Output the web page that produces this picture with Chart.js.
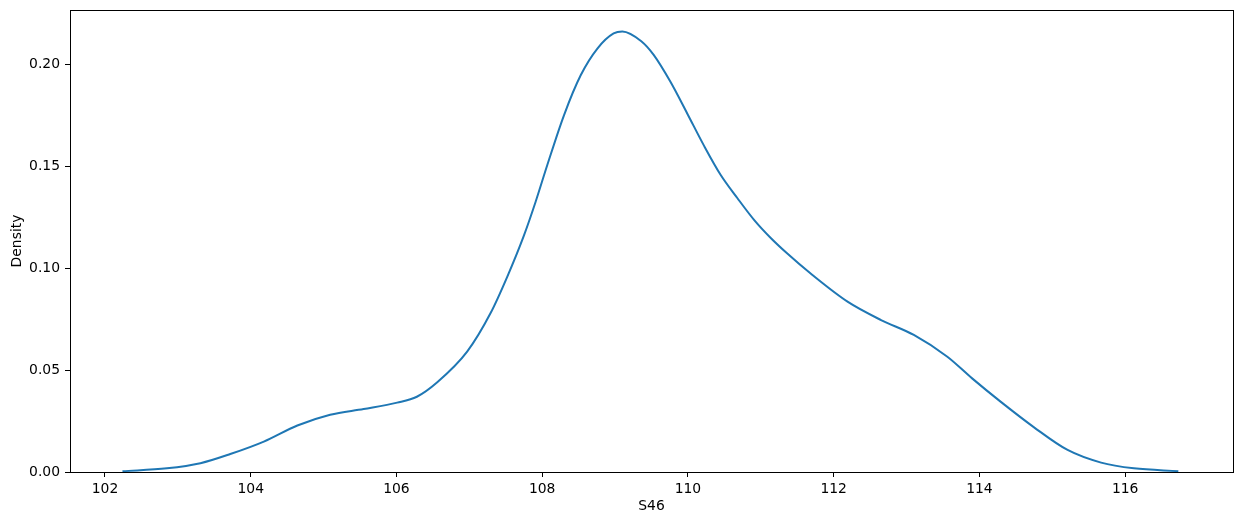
<!DOCTYPE html>
<html>
<head>
<meta charset="utf-8">
<script src="https://cdn.jsdelivr.net/npm/chart.js@4/dist/chart.umd.min.js"></script>
<style>
  html, body { margin: 0; padding: 0; background: #fff; }
  #wrap { width: 1242px; height: 525px; position: relative; }
</style>
</head>
<body>
<div id="wrap"><canvas id="c" width="1242" height="525"></canvas></div>
<script>
// Data
const xValues = [102.24, 102.85, 103.31, 103.72, 104.18, 104.64, 105.09, 105.55, 106.01, 106.28,
                 106.56, 106.97, 107.29, 107.52, 107.75, 107.91, 108.07, 108.30, 108.53, 108.76,
                 108.98, 109.10, 109.36, 109.53, 109.76, 109.99, 110.22, 110.45, 110.68, 110.91,
                 111.14, 111.36, 111.68, 112.19, 112.65, 113.10, 113.56, 113.90, 114.29, 114.75,
                 115.21, 115.67, 116.12, 116.73];
const densityValues = [0.0004, 0.0018, 0.0043, 0.0088, 0.0149, 0.0228, 0.0281, 0.0309, 0.0340, 0.0369,
                       0.0440, 0.0590, 0.0778, 0.0957, 0.1160, 0.1325, 0.1505, 0.1750, 0.1946, 0.2077,
                       0.2150, 0.2160, 0.2112, 0.2045, 0.1913, 0.1758, 0.1600, 0.1456, 0.1342, 0.1235,
                       0.1146, 0.1072, 0.0974, 0.0835, 0.0745, 0.0672, 0.0565, 0.0459, 0.0345, 0.0219,
                       0.0108, 0.0046, 0.0018, 0.0004];
const xTicks = [102, 104, 106, 108, 110, 112, 114, 116];
const yTicks = [0.00, 0.05, 0.10, 0.15, 0.20];
const xLabel = 'S46';
const yLabel = 'Density';

const points = xValues.map((x, i) => ({ x: x, y: densityValues[i] }));

Chart.defaults.color = '#000';
Chart.defaults.font.family = '"DejaVu Sans", sans-serif';
Chart.defaults.font.size = 13.9;

const frame = {
  id: 'frame',
  afterDraw(chart) {
    const { ctx, chartArea: a } = chart;
    ctx.save();
    ctx.strokeStyle = '#000';
    ctx.lineWidth = 1;
    ctx.strokeRect(Math.round(a.left) + 0.5, Math.round(a.top) + 0.5,
                   Math.round(a.right - a.left), Math.round(a.bottom - a.top));
    ctx.restore();
  }
};

new Chart(document.getElementById('c'), {
  type: 'line',
  data: {
    datasets: [{
      data: points,
      borderColor: '#1f77b4',
      borderWidth: 2,
      pointRadius: 0,
      fill: false,
      cubicInterpolationMode: 'monotone'
    }]
  },
  options: {
    responsive: false,
    animation: false,
    events: [],
    layout: { padding: { left: 0, top: 10, right: 9, bottom: 0 } },
    plugins: { legend: { display: false }, tooltip: { enabled: false } },
    scales: {
      x: {
        type: 'linear',
        min: 101.52,
        max: 117.48,
        afterFit(scale) { scale.height = 53; scale.paddingLeft = 0; scale.paddingRight = 0; },
        afterBuildTicks(scale) { scale.ticks = xTicks.map(v => ({ value: v })); },
        grid: { drawOnChartArea: false, drawTicks: true, tickLength: 5, color: '#000' },
        border: { display: false },
        ticks: { padding: 4, maxRotation: 0, autoSkip: false, callback: v => String(v) },
        title: { display: true, text: xLabel, padding: { top: 0, bottom: 10 } }
      },
      y: {
        type: 'linear',
        min: 0,
        max: 0.2265,
        afterFit(scale) { scale.width = 70; scale.paddingTop = 0; scale.paddingBottom = 0; },
        afterBuildTicks(scale) { scale.ticks = yTicks.map(v => ({ value: v })); },
        grid: { drawOnChartArea: false, drawTicks: true, tickLength: 5, color: '#000' },
        border: { display: false },
        ticks: { padding: 5, autoSkip: false, callback: v => Number(v).toFixed(2) },
        title: { display: true, text: yLabel, padding: { top: 9, bottom: 0 } }
      }
    }
  },
  plugins: [frame]
});
</script>
</body>
</html>
